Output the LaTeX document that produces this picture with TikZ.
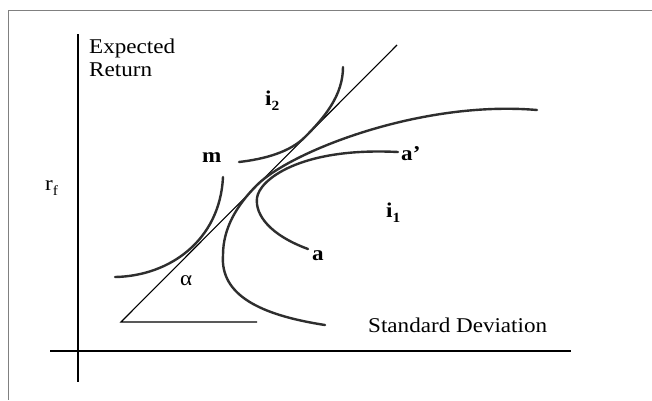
\documentclass[tikz,border=0pt]{standalone}
\usepackage{fontspec}
\setmainfont{Liberation Serif}[FakeStretch=1.1]
\newcommand\lowsub[1]{\raisebox{-5pt}{\fontsize{14}{14}\selectfont #1}}
\tikzset{
  curve/.style={line width=2.4pt, color=black!82, line cap=round},
  thinline/.style={line width=1.1pt, black},
  axis/.style={line width=1.6pt, black},
  framel/.style={line width=1pt, gray},
  lbl/.style={inner sep=0pt, anchor=base west, font=\fontsize{21}{23}\selectfont},
  blbl/.style={lbl, font=\fontsize{21}{23}\selectfont\bfseries}
}
\begin{document}
\begin{tikzpicture}[x=1pt,y=-1pt]
\useasboundingbox (0,0) rectangle (652,400);
\fill[white] (0,0) rectangle (652,400);
% scan frame
\coordinate (fTR) at (652,10); \coordinate (fTL) at (8,10); \coordinate (fBL) at (8,400);
\draw[framel] (fTR) -- (fTL) -- (fBL);
% axes
\coordinate (yaxT) at (78,34); \coordinate (yaxB) at (78,382);
\coordinate (xaxL) at (50,351); \coordinate (xaxR) at (571,351);
\draw[axis] (yaxT) -- (yaxB);
\draw[axis] (xaxL) -- (xaxR);
% capital market line and angle base
\coordinate (rf) at (121,322); \coordinate (cmlEnd) at (397,45); \coordinate (hEnd) at (257,322);
\draw[thinline] (hEnd) -- (rf) -- (cmlEnd);
% big frontier
\draw[curve] (325,325) .. controls (260,315) and (220,295) .. (223,255)
  .. controls (223,228) and (237,205) .. (257,185)
  .. controls (290,152) and (420,100) .. (537,110);
% frontier a - a'
\draw[curve] (308,249) .. controls (270,235) and (255,215) .. (257,198)
  .. controls (259,180) and (300,147) .. (398,152);
% indifference curve through m
\draw[curve] (115,277) .. controls (170,276) and (220,240) .. (223,177);
% indifference curve i2
\draw[curve] (239,162) .. controls (265,159) and (290,152) .. (305,137)
  .. controls (325,117) and (343,95) .. (343,67);
% labels
\node[lbl] (er1) at (89,53) {Expected};
\node[lbl] (er2) at (89,76) {Return};
\node[lbl] (rflab) at (45,190) {r\lowsub{f}};
\node[blbl] (i2) at (265,105) {i\lowsub{2}};
\node[blbl] (m) at (202,162) {m};
\node[blbl] (ap) at (401,160) {a’};
\node[blbl] (i1) at (386,217) {i\lowsub{1}};
\node[blbl] (a) at (312,260) {a};
\node[lbl] (alpha) at (180,285) {α};
\node[lbl] (sd) at (368,332) {Standard Deviation};
\end{tikzpicture}
\end{document}
